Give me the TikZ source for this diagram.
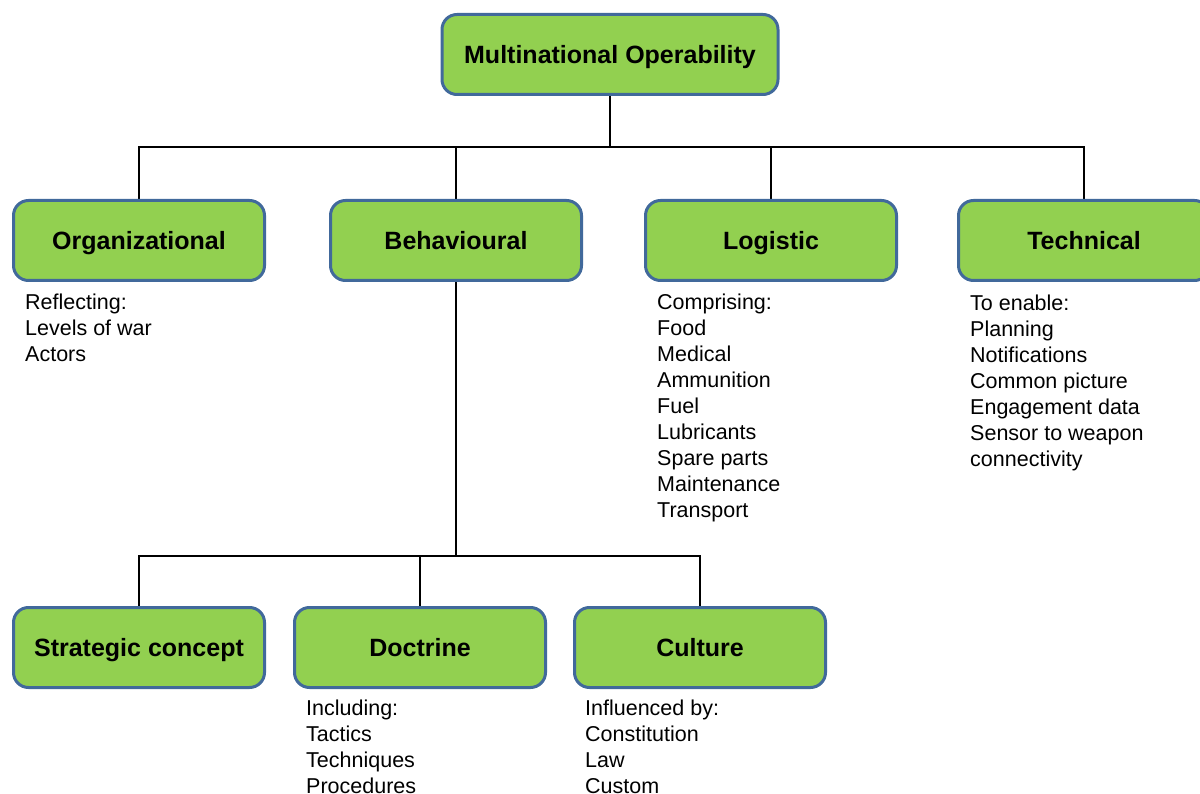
\documentclass[tikz,border=0pt]{standalone}
\usepackage{fontspec}
\setmainfont{Liberation Sans}
\usetikzlibrary{backgrounds}
\definecolor{boxgreen}{RGB}{146,208,80}
\definecolor{boxblue}{RGB}{65,105,155}
\tikzset{
  unit/.style={draw=boxblue, line width=3pt, fill=boxgreen, rounded corners=15pt,
    minimum width=251pt, minimum height=80pt, inner sep=0pt,
    text height=22pt, text depth=4.4pt,
    font=\fontsize{25}{30}\selectfont\bfseries},
  note/.style={anchor=north west, align=left, inner sep=0pt,
    font=\fontsize{21.5}{26}\selectfont},
  link/.style={line width=1.6pt, black},
}

\begin{document}
\begin{tikzpicture}[x=1pt,y=-1pt]
      \useasboundingbox (0,0) rectangle (1200,794);
      \clip (0,0) rectangle (1200,794);
      % top of the tree
      \node [unit, minimum width=336pt] (mno) at (610,54.5) {Multinational Operability};
      \node [unit] (org) at (139,240.5) {Organizational};
      \node [unit] (beh) at (456,240.5) {Behavioural};
      \node [unit] (log) at (771,240.5) {Logistic};
      \node [unit] (tech) at (1084,240.5) {Technical};
      % behavioural branch
      \node [unit] (strat) at (139,647.5) {Strategic concept};
      \node [unit] (doc) at (420,647.5) {Doctrine};
      \node [unit] (cult) at (700,647.5) {Culture};
      \coordinate (bus) at (610,147);
      \coordinate (bus2) at (456,556);
      \begin{scope}[on background layer]
        \draw[link] (mno.south)--(bus);
        \draw[link] (org.north) |- (bus) -| (tech.north);
        \draw[link] (beh.north)--(beh.north |- bus);
        \draw[link] (log.north)--(log.north |- bus);
        \draw[link] (beh.south)--(bus2);
        \draw[link] (strat.north) |- (bus2) -| (cult.north);
        \draw[link] (doc.north)--(doc.north |- bus2);
      \end{scope}
      % notes under the boxes
      \node [note] (orgnote) at (25,293.5) {Reflecting:\\Levels of war\\Actors};
      \node [note] (lognote) at (657,293.5) {Comprising:\\Food\\Medical\\Ammunition\\Fuel\\Lubricants\\Spare parts\\Maintenance\\Transport};
      \node [note] (technote) at (970,295) {To enable:\\Planning\\Notifications\\Common picture\\Engagement data\\Sensor to weapon\\connectivity};
      \node [note] (docnote) at (306,699.5) {Including:\\Tactics\\Techniques\\Procedures};
      \node [note] (cultnote) at (585,699.5) {Influenced by:\\Constitution\\Law\\Custom};
    \end{tikzpicture}
\end{document}
